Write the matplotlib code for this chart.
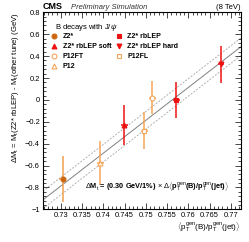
import matplotlib
matplotlib.use("Agg")
import matplotlib.pyplot as plt
from matplotlib.ticker import MultipleLocator
import numpy as np

plt.rcParams['font.family'] = ['Liberation Sans', 'DejaVu Sans']
plt.rcParams['mathtext.fontset'] = 'custom'
plt.rcParams['mathtext.rm'] = 'Liberation Sans'
plt.rcParams['mathtext.it'] = 'Liberation Sans:italic'
plt.rcParams['mathtext.bf'] = 'Liberation Sans:bold'

# data
tunes = ["Z2*", "Z2* rbLEP", "Z2* rbLEP soft", "Z2* rbLEP hard", "P12FT", "P12FL", "P12"]
x_vals = [0.7304, 0.7572, 0.7449, 0.7677, 0.7515, 0.7496, 0.7393]
x_errs = [0.0008, 0.0008, 0.0008, 0.0008, 0.0008, 0.0008, 0.0008]
y_vals = [-0.725, 0.0, -0.23, 0.325, 0.02, -0.281, -0.58]
y_errs = [0.21, 0.165, 0.18, 0.167, 0.15, 0.17, 0.20]
fit_slope = 30.0      # 0.30 GeV / 1%
fit_x0 = 0.7562
band = 0.08

dark_orange = '#cc6611'
light_orange = '#f5a55a'
red = '#ee1111'
styles = {
    "Z2*": dict(marker='o', mfc=dark_orange, mec=dark_orange, ecolor='#f0a050', ms=3.5),
    "Z2* rbLEP": dict(marker='s', mfc=red, mec=red, ecolor=red, ms=3.5),
    "Z2* rbLEP soft": dict(marker='^', mfc=red, mec=red, ecolor=red, ms=3.5),
    "Z2* rbLEP hard": dict(marker='v', mfc=red, mec=red, ecolor=red, ms=3.5),
    "P12FT": dict(marker='o', mfc='white', mec=light_orange, ecolor=light_orange, ms=3.5),
    "P12FL": dict(marker='s', mfc='white', mec=light_orange, ecolor=light_orange, ms=3.5),
    "P12": dict(marker='^', mfc='white', mec=light_orange, ecolor=light_orange, ms=3.5),
}

fig = plt.figure(figsize=(2.49, 2.42), dpi=100)
ax = fig.add_axes([0.1715, 0.135, 0.7965, 0.814])
xlim = (0.7257, 0.7724)
ax.set_xlim(*xlim)
ax.set_ylim(-1, 0.8)

xx = np.array(xlim)
yy = fit_slope * (xx - fit_x0)
ax.plot(xx, yy, color='#808080', lw=0.7, zorder=1)
ax.plot(xx, yy + band, color='#b0b0b0', lw=0.7, ls=(0, (2, 1.5)), zorder=1)
ax.plot(xx, yy - band, color='#b0b0b0', lw=0.7, ls=(0, (2, 1.5)), zorder=1)

handles = {}
for name, x, xe, y, ye in zip(tunes, x_vals, x_errs, y_vals, y_errs):
    st = styles[name]
    ax.errorbar([x], [y], xerr=[xe], yerr=[ye], fmt='none', ecolor=st['ecolor'],
                elinewidth=1.1, capsize=0, zorder=2)
    h, = ax.plot([x], [y], ls='none', marker=st['marker'], mfc=st['mfc'], mec=st['mec'],
                 ms=st['ms'], mew=0.8, zorder=3)
    handles[name] = h

ax.xaxis.set_major_locator(MultipleLocator(0.005))
ax.xaxis.set_minor_locator(MultipleLocator(0.001))
ax.yaxis.set_major_locator(MultipleLocator(0.2))
ax.yaxis.set_minor_locator(MultipleLocator(0.04))
ax.tick_params(which='both', direction='in', top=True, right=True, labelsize=5.4, pad=2, width=0.5)
ax.tick_params(which='major', length=4)
ax.tick_params(which='minor', length=2)
ax.set_xticks(np.arange(0.73, 0.7701, 0.005))
ax.set_xticklabels(["0.73", "0.735", "0.74", "0.745", "0.75", "0.755", "0.76", "0.765", "0.77"])
ax.set_yticks([-1, -0.8, -0.6, -0.4, -0.2, 0, 0.2, 0.4, 0.6, 0.8])
ax.set_yticklabels(["\u22121", "\u22120.8", "\u22120.6", "\u22120.4", "\u22120.2", "0", "0.2", "0.4", "0.6", "0.8"])
for s in ax.spines.values():
    s.set_linewidth(0.8)

ax.set_ylabel(r'$\Delta$M$_{\rm t}$ = M$_{\rm t}$(Z2* rbLEP) - M$_{\rm t}$(other tune) (GeV)',
              fontsize=5.6, loc='top', labelpad=3)
ax.set_xlabel(r'$\langle$p$_{\rm T}^{\rm gen}$(B)/p$_{\rm T}^{\rm gen}$(jet)$\rangle$',
              fontsize=5.8, loc='right', labelpad=1)

ax.text(0.213, 0.118, r'$\Delta\mathbf{M}_{\rm t}$ = (0.30 GeV/1%) $\times$ $\Delta\langle$p$_{\rm T}^{\rm gen}$(B)/p$_{\rm T}^{\rm gen}$(jet)$\rangle$',
        transform=ax.transAxes, fontsize=5.3, fontweight='semibold', va='center', ha='left')

fig.text(0.1715, 0.956, 'CMS', fontsize=6.5, fontweight='bold', ha='left', va='bottom')
fig.text(0.285, 0.956, 'Preliminary Simulation', fontsize=5.5, style='italic', ha='left', va='bottom', color='#333333')
fig.text(0.965, 0.956, '(8 TeV)', fontsize=5.5, ha='right', va='bottom')

ax.text(0.06, 0.95, r'B decays with J/$\psi$', transform=ax.transAxes, fontsize=5.5, va='top')
leg_kw = dict(frameon=False, handlelength=0.8, handletextpad=0.8, labelspacing=0.45,
              borderpad=0, borderaxespad=0, prop={'weight': 'semibold', 'size': 5.0})
leg1 = ax.legend([handles[n] for n in ["Z2*", "Z2* rbLEP soft", "P12FT", "P12"]],
                 ["Z2*", "Z2* rbLEP soft", "P12FT", "P12"],
                 loc='upper left', bbox_to_anchor=(0.045, 0.895), **leg_kw)
ax.add_artist(leg1)
ax.legend([handles[n] for n in ["Z2* rbLEP", "Z2* rbLEP hard", "P12FL"]],
          ["Z2* rbLEP", "Z2* rbLEP hard", "P12FL"],
          loc='upper left', bbox_to_anchor=(0.37, 0.895), **leg_kw)

fig.savefig('out.png', dpi=100)
